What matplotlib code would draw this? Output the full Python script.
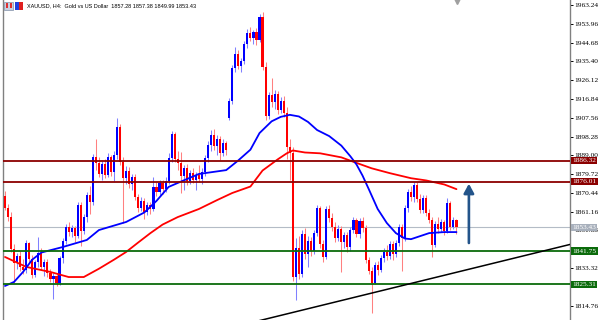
import matplotlib
matplotlib.use("Agg")
import matplotlib.pyplot as plt
from matplotlib.patches import Rectangle
import matplotlib.transforms as mtransforms

# ---------------- data ----------------
opens = [1869.0,1863.0,1858.5,1842.5,1836.0,1839.5,1834.0,1832.5,1845.5,1838.0,
         1830.0,1836.5,1841.0,1834.0,1836.5,1831.0,1828.0,1829.5,1826.0,1838.5,
         1846.5,1853.5,1851.0,1853.0,1849.0,1864.5,1851.5,1858.5,1869.5,1866.0,
         1888.0,1885.0,1880.0,1884.5,1879.5,1888.0,1881.0,1889.0,1903.0,1885.5,
         1878.0,1881.5,1875.0,1878.5,1868.5,1863.0,1866.5,1861.0,1864.5,1862.5,
         1873.5,1871.0,1875.5,1872.5,1876.5,1887.5,1899.5,1887.0,1885.0,1879.0,
         1882.5,1876.5,1880.5,1877.0,1879.5,1877.5,1881.0,1887.5,1894.0,1899.0,
         1893.5,1897.0,1890.0,1895.0,1907.5,1916.0,1932.0,1939.0,1933.0,1935.5,
         1944.0,1949.5,1947.0,1950.0,1946.0,1957.5,1932.5,1908.5,1919.0,1915.5,
         1919.5,1911.5,1916.0,1910.0,1893.0,1890.0,1829.0,1843.0,1830.5,1850.0,
         1840.5,1846.5,1842.0,1850.5,1863.0,1845.0,1839.0,1862.5,1858.0,1853.5,
         1848.0,1852.5,1846.0,1849.5,1843.5,1852.0,1857.0,1850.0,1856.5,1853.0,
         1837.5,1832.0,1826.0,1835.0,1832.5,1838.5,1841.5,1839.5,1845.0,1840.5,
         1845.5,1853.5,1848.0,1863.0,1871.0,1868.5,1874.5,1867.5,1862.0,1868.0,
         1860.5,1857.0,1844.5,1855.0,1852.5,1856.0,1851.5,1865.5,1853.5,1857.28]
highs = [1871.5,1865.0,1861.0,1845.0,1841.0,1842.0,1838.0,1847.0,1846.0,1840.0,
         1837.5,1848.5,1843.0,1838.0,1838.0,1833.0,1831.0,1831.0,1839.5,1848.0,
         1855.0,1856.0,1854.5,1854.0,1866.0,1866.0,1860.0,1871.0,1874.0,1889.5,
         1897.0,1888.0,1886.0,1887.0,1890.0,1889.0,1891.0,1907.5,1904.5,1888.0,
         1883.5,1883.0,1880.0,1880.0,1870.0,1868.5,1868.0,1866.0,1866.0,1878.5,
         1876.0,1877.0,1877.0,1878.5,1890.0,1901.0,1900.5,1891.0,1890.5,1884.0,
         1884.5,1882.0,1882.5,1881.0,1884.0,1882.5,1889.0,1896.0,1901.5,1902.0,
         1899.0,1898.5,1897.0,1896.0,1917.5,1933.5,1942.5,1941.0,1937.0,1945.5,
         1951.5,1952.5,1951.0,1952.0,1959.0,1960.0,1935.0,1920.5,1927.0,1921.5,
         1921.0,1918.0,1918.5,1913.0,1897.0,1893.0,1848.0,1849.0,1852.0,1853.0,
         1849.0,1848.5,1852.0,1864.5,1864.0,1847.0,1864.0,1864.5,1860.5,1856.0,
         1854.5,1854.0,1851.0,1851.0,1853.5,1858.5,1858.0,1858.0,1858.5,1854.5,
         1839.0,1834.0,1836.5,1837.0,1840.0,1843.0,1844.5,1846.5,1846.5,1847.0,
         1855.0,1855.0,1864.5,1872.5,1874.0,1876.0,1876.0,1870.0,1869.5,1869.5,
         1862.5,1858.5,1856.5,1858.5,1857.5,1857.0,1868.0,1866.5,1858.5,1857.38]
lows = [1862.0,1856.5,1841.5,1826.0,1833.0,1832.0,1830.5,1831.0,1836.0,1828.5,
        1829.0,1834.0,1832.5,1829.5,1829.0,1826.5,1818.0,1824.5,1825.0,1836.0,
        1845.0,1849.0,1848.5,1846.0,1848.0,1844.0,1850.0,1856.0,1860.0,1864.5,
        1882.0,1878.5,1877.0,1878.0,1878.5,1879.0,1876.5,1887.0,1884.0,1855.5,
        1875.0,1873.0,1872.0,1867.0,1861.0,1861.5,1857.5,1859.5,1860.0,1861.5,
        1869.0,1869.5,1870.0,1871.0,1875.0,1885.5,1885.5,1882.0,1870.5,1872.0,
        1874.5,1875.0,1875.5,1872.0,1876.0,1875.0,1879.0,1885.5,1891.0,1891.5,
        1889.0,1886.5,1888.5,1889.0,1906.5,1914.5,1930.0,1931.5,1930.0,1934.0,
        1942.0,1945.5,1944.0,1943.5,1945.0,1931.0,1906.5,1907.0,1913.0,1912.0,
        1909.5,1910.0,1908.0,1887.0,1877.0,1827.0,1817.5,1828.0,1829.0,1838.0,
        1834.0,1839.5,1840.5,1849.0,1843.0,1836.5,1838.0,1856.0,1851.5,1846.0,
        1846.5,1831.5,1843.0,1841.5,1842.0,1850.5,1848.5,1848.0,1851.0,1836.0,
        1830.5,1811.0,1825.5,1830.0,1831.5,1836.5,1837.5,1838.0,1837.5,1839.0,
        1844.0,1832.0,1846.5,1861.0,1866.5,1866.0,1866.0,1860.5,1860.5,1859.0,
        1855.5,1839.0,1843.5,1850.5,1851.0,1849.5,1850.5,1852.0,1852.5,1849.99]
closes = [1863.0,1858.5,1842.5,1836.0,1839.5,1834.0,1832.5,1845.5,1838.0,1830.0,
          1836.5,1841.0,1834.0,1836.5,1831.0,1828.0,1829.5,1826.0,1838.5,1846.5,
          1853.5,1851.0,1853.0,1849.0,1864.5,1851.5,1858.5,1869.5,1866.0,1888.0,
          1885.0,1880.0,1884.5,1879.5,1888.0,1881.0,1889.0,1903.0,1885.5,1878.0,
          1881.5,1875.0,1878.5,1868.5,1863.0,1866.5,1861.0,1864.5,1862.5,1873.5,
          1871.0,1875.5,1872.5,1876.5,1887.5,1899.5,1887.0,1885.0,1879.0,1882.5,
          1876.5,1880.5,1877.0,1879.5,1877.5,1881.0,1887.5,1894.0,1899.0,1893.5,
          1897.0,1890.0,1895.0,1891.5,1916.0,1932.0,1939.0,1933.0,1935.5,1944.0,
          1949.5,1947.0,1950.0,1946.0,1957.5,1932.5,1908.5,1919.0,1915.5,1919.5,
          1911.5,1916.0,1910.0,1893.0,1890.0,1829.0,1843.0,1830.5,1850.0,1840.5,
          1846.5,1842.0,1850.5,1863.0,1845.0,1839.0,1862.5,1858.0,1853.5,1848.0,
          1852.5,1846.0,1849.5,1843.5,1852.0,1857.0,1850.0,1856.5,1853.0,1837.5,
          1832.0,1826.0,1835.0,1832.5,1838.5,1841.5,1839.5,1845.0,1840.5,1845.5,
          1853.5,1848.0,1863.0,1871.0,1868.5,1874.5,1867.5,1862.0,1868.0,1860.5,
          1857.0,1844.5,1855.0,1852.5,1856.0,1851.5,1865.5,1853.5,1857.28,1853.43]

# fast (blue) and slow (red) moving averages, read at sampled bars
ma_fast_idx = [0, 3, 6, 9, 12, 19, 27, 31, 40, 46, 50, 54, 58, 64, 73, 77, 81, 84,
               88, 91, 94, 97, 100, 103, 107, 111, 114, 116, 118, 120, 123, 126,
               129, 132, 134, 136, 140, 145, 149]
ma_fast = [1824.5, 1826.5, 1831.5, 1837.5, 1841.0, 1843.7, 1847.2, 1852.1, 1856.1,
           1860.8, 1866.5, 1873.4, 1876.0, 1879.8, 1881.7, 1886.5, 1891.8, 1900.0,
           1905.8, 1908.0, 1909.0, 1908.2, 1905.5, 1901.5, 1898.5, 1893.8, 1888.5,
           1884.5, 1879.0, 1872.5, 1862.5, 1855.6, 1850.6, 1847.9, 1847.6, 1848.6,
           1850.6, 1851.1, 1851.1]
ma_slow_idx = [0, 7, 15, 21, 26, 31, 36, 40, 44, 48, 52, 57, 64, 70, 75, 81, 85, 90,
               93, 95, 99, 104, 111, 115, 121, 127, 134, 139, 145, 149]
ma_slow = [1838.8, 1833.9, 1831.4, 1828.9, 1828.9, 1833.0, 1837.5, 1841.3, 1846.0,
           1850.6, 1854.8, 1858.5, 1862.5, 1866.9, 1870.4, 1873.6, 1881.5, 1887.0,
           1890.0, 1891.4, 1890.4, 1890.0, 1888.0, 1885.8, 1882.6, 1880.2, 1877.7,
           1876.6, 1874.6, 1872.3]

resistance_levels = [1886.32, 1876.01]
support_levels = [1841.75, 1825.31]
last_price = 1853.43
trend_idx = [83.5, 186.5]
trend_price = [1807.2, 1845.0]
arrow_idx = 153.1
arrow_from, arrow_to = 1845.7, 1875.0

yticks = [1963.24, 1953.96, 1944.68, 1935.40, 1926.12, 1916.84, 1907.56, 1898.28,
          1889.00, 1879.72, 1870.44, 1861.16, 1851.88, 1833.32, 1814.76]
title = "XAUUSD, H4:  Gold vs US Dollar  1857.28 1857.38 1849.99 1853.43"

# ---------------- figure ----------------
W, H = 602, 320
fig = plt.figure(figsize=(W / 100, H / 100), dpi=100)
fig.patch.set_facecolor("white")
ax = fig.add_axes([3 / W, 0, (570 - 3) / W, 1])
ax.set_xlim(-0.66, 186.47)
ax.set_ylim(1807.68, 1965.71)

n = len(closes)
idx = list(range(n))
up_col, dn_col = "#0000ff", "#ff0000"
up_wick, dn_wick = "#8080ff", "#ff8080"
for i in idx:
    o, h, l, c = opens[i], highs[i], lows[i], closes[i]
    bull = c >= o
    ax.vlines(i, l, h, color=up_wick if bull else dn_wick, lw=0.75, zorder=2)
    ax.bar(i, abs(c - o) if abs(c - o) > 0.3 else 0.3, bottom=min(o, c), width=0.7,
           color=up_col if bull else dn_col, linewidth=0, zorder=3)

ax.plot(ma_slow_idx, ma_slow, color="#ff0000", lw=1.3, zorder=4, solid_capstyle="round")
ax.plot(ma_fast_idx, ma_fast, color="#0000ff", lw=1.3, zorder=4, solid_capstyle="round")

ax.axhline(last_price, color="#b4bcc6", lw=0.8, zorder=1)
for lv in resistance_levels:
    ax.axhline(lv, color="#8b0000", lw=1.3, zorder=5)
for lv in support_levels:
    ax.axhline(lv, color="#0b6b0b", lw=1.3, zorder=5)

ax.plot(trend_idx, trend_price, color="black", lw=1.1, zorder=6)

ax.annotate("", xy=(arrow_idx, arrow_to), xytext=(arrow_idx, arrow_from),
            arrowprops=dict(arrowstyle="-|>,head_length=0.55,head_width=0.3",
                            color="#23548a", lw=1.9, mutation_scale=10,
                            shrinkA=0, shrinkB=0), zorder=7)

# chart shift marker
ax.plot([149.2], [1965.2], marker="v", color="#a0a0a0", ms=4, clip_on=False, zorder=8)

# axes styling
for s in ["top", "bottom"]:
    ax.spines[s].set_visible(False)
ax.spines["left"].set_color("#808080")
ax.spines["right"].set_color("#808080")
ax.spines["left"].set_linewidth(1.0)
ax.spines["right"].set_linewidth(1.0)
ax.set_xticks([])
ax.yaxis.tick_right()
ax.set_yticks(yticks)
ax.set_yticklabels([f"{v:.2f}" for v in yticks], fontsize=5.3,
                   family=["Liberation Serif", "DejaVu Serif"])
ax.tick_params(axis="y", direction="out", length=2, width=0.7, pad=1, colors="black")

# price boxes on the right axis
trans = mtransforms.blended_transform_factory(ax.transAxes, ax.transData)
boxes = [(resistance_levels[0], "#8b0000", "white"),
         (resistance_levels[1], "#8b0000", "white"),
         (last_price, "#a8b0bc", "white"),
         (support_levels[0], "#0b6b0b", "white"),
         (support_levels[1], "#0b6b0b", "white")]
for val, fc, tc in boxes:
    ax.text(1.0 + 2.5 / 567, val, f"{val:.2f}", transform=trans, ha="left", va="center",
            fontsize=5.3, color=tc, family=["Liberation Serif", "DejaVu Serif"],
            clip_on=False, zorder=10,
            bbox=dict(boxstyle="square,pad=0.15", fc=fc, ec="none"))

# title with small icon
fig.add_artist(Rectangle((4 / W, 1 - 10 / H), 9 / W, 8 / H, transform=fig.transFigure,
                         fc="#c8d0e0", ec="#8090a8", lw=0.5))
fig.add_artist(Rectangle((6 / W, 1 - 8 / H), 2 / W, 5 / H, transform=fig.transFigure,
                         fc="#e03030", ec="none"))
fig.add_artist(Rectangle((9.5 / W, 1 - 8 / H), 2 / W, 5 / H, transform=fig.transFigure,
                         fc="#e03030", ec="none"))
fig.add_artist(Rectangle((15 / W, 1 - 10 / H), 4 / W, 8 / H, transform=fig.transFigure,
                         fc="#2040e0", ec="none"))
fig.add_artist(Rectangle((19 / W, 1 - 10 / H), 4 / W, 8 / H, transform=fig.transFigure,
                         fc="#e02020", ec="none"))
fig.text(27 / W, 1 - 6 / H, title, fontsize=4.0, va="center", ha="left",
         family=["Liberation Sans", "DejaVu Sans"], color="black")

fig.savefig("out.png", dpi=100, facecolor="white")
